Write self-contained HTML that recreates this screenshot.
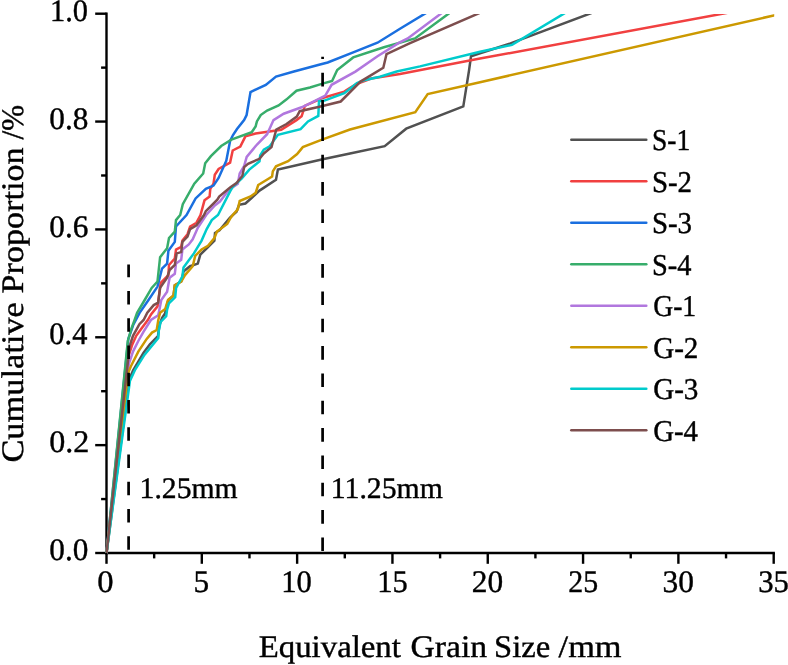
<!DOCTYPE html>
<html lang="en"><head><meta charset="utf-8"><title>Cumulative Proportion vs Equivalent Grain Size</title>
<style>html,body{margin:0;padding:0;background:#fff;overflow:hidden}svg{display:block}text{font-family:"Liberation Serif","DejaVu Serif",serif;fill:#000;stroke:#000;stroke-width:0.4px;text-rendering:geometricPrecision}</style></head><body>
<svg width="788" height="665" viewBox="0 0 788 665">
<rect width="788" height="665" fill="#fff"/>
<g stroke="#000" stroke-width="2.4" fill="none" stroke-linecap="butt">
<line x1="106.5" y1="12.5" x2="106.5" y2="554.2"/>
<line x1="105.3" y1="553.0" x2="774.9000000000001" y2="553.0"/>
<line x1="106.50" y1="553.0" x2="106.50" y2="563.8"/>
<line x1="154.16" y1="553.0" x2="154.16" y2="558.4"/>
<line x1="201.81" y1="553.0" x2="201.81" y2="563.8"/>
<line x1="249.47" y1="553.0" x2="249.47" y2="558.4"/>
<line x1="297.13" y1="553.0" x2="297.13" y2="563.8"/>
<line x1="344.79" y1="553.0" x2="344.79" y2="558.4"/>
<line x1="392.44" y1="553.0" x2="392.44" y2="563.8"/>
<line x1="440.10" y1="553.0" x2="440.10" y2="558.4"/>
<line x1="487.76" y1="553.0" x2="487.76" y2="563.8"/>
<line x1="535.41" y1="553.0" x2="535.41" y2="558.4"/>
<line x1="583.07" y1="553.0" x2="583.07" y2="563.8"/>
<line x1="630.73" y1="553.0" x2="630.73" y2="558.4"/>
<line x1="678.39" y1="553.0" x2="678.39" y2="563.8"/>
<line x1="726.04" y1="553.0" x2="726.04" y2="558.4"/>
<line x1="773.70" y1="553.0" x2="773.70" y2="563.8"/>
<line x1="106.5" y1="553.00" x2="95.2" y2="553.00"/>
<line x1="106.5" y1="499.07" x2="101.1" y2="499.07"/>
<line x1="106.5" y1="445.14" x2="95.2" y2="445.14"/>
<line x1="106.5" y1="391.21" x2="101.1" y2="391.21"/>
<line x1="106.5" y1="337.28" x2="95.2" y2="337.28"/>
<line x1="106.5" y1="283.35" x2="101.1" y2="283.35"/>
<line x1="106.5" y1="229.42" x2="95.2" y2="229.42"/>
<line x1="106.5" y1="175.49" x2="101.1" y2="175.49"/>
<line x1="106.5" y1="121.56" x2="95.2" y2="121.56"/>
<line x1="106.5" y1="67.63" x2="101.1" y2="67.63"/>
<line x1="106.5" y1="13.70" x2="95.2" y2="13.70"/>
</g>
<defs><clipPath id="pc"><rect x="100" y="14" width="674.2" height="545"/></clipPath></defs>
<g clip-path="url(#pc)" fill="none" stroke-width="2.5" stroke-linejoin="miter" stroke-miterlimit="3" stroke-linecap="butt">
<polyline stroke="#515151" points="106.5,553.0 129.4,378.9 133.0,370.5 143.6,352.6 149.9,344.2 156.2,337.9 158.0,336.0 159.5,325.0 162.0,318.0 165.0,313.5 167.0,305.0 168.4,300.0 173.5,295.6 174.8,285.3 181.2,281.5 183.7,271.3 190.1,266.2 197.8,263.6 200.3,254.6 208.0,247.0 214.4,240.6 215.0,232.9 219.5,230.3 230.0,217.6 236.5,211.8 239.1,204.8 245.4,203.5 251.8,197.8 259.5,190.6 276.0,179.7 277.9,169.5 322.7,159.2 350.0,153.5 384.7,146.1 406.2,128.7 463.3,106.4 469.1,70.0 471.0,56.3 480.0,53.3 510.5,43.4 602.7,8.8"/>
<polyline stroke="#F14040" points="106.5,553.0 128.5,356.0 132.0,345.3 136.2,335.8 141.5,328.4 147.8,320.0 151.2,314.1 157.5,306.4 158.2,302.0 160.0,288.0 160.7,282.8 168.4,275.1 169.0,264.9 174.8,258.5 176.0,249.5 181.2,247.0 182.4,240.6 187.5,234.2 190.1,226.5 196.5,222.7 200.5,215.0 204.5,200.3 209.6,196.5 210.3,188.8 213.5,183.7 214.8,174.8 218.6,169.0 230.1,162.6 232.7,150.5 240.3,146.6 245.4,136.4 255.6,133.5 281.2,129.7 296.5,120.1 301.6,116.3 303.2,111.5 304.8,105.8 321.7,98.3 344.3,91.6 349.7,88.0 355.8,84.3 371.2,78.5 400.0,74.0 480.0,58.6 736.2,11.2"/>
<polyline stroke="#1A6FDF" points="106.5,553.0 128.3,339.0 133.2,325.0 139.6,312.8 148.5,300.0 157.5,286.6 162.0,268.7 167.1,263.6 168.4,250.8 174.8,241.9 176.0,226.5 186.5,215.0 195.6,198.4 205.8,188.8 213.5,185.6 218.6,178.0 226.3,160.7 230.1,141.0 233.0,135.0 237.0,129.0 244.1,120.1 246.6,115.0 250.5,92.0 265.8,84.9 276.0,76.6 293.9,71.5 320.0,64.5 327.7,62.5 353.2,52.3 377.5,42.7 400.0,28.8 436.9,6.4"/>
<polyline stroke="#37AD6B" points="106.5,553.0 127.8,341.0 131.5,328.4 134.6,320.0 137.1,312.8 144.7,300.0 151.7,287.9 157.5,281.5 160.1,257.2 167.1,248.2 169.0,238.0 174.8,231.6 176.0,220.1 180.2,215.0 182.8,204.2 194.3,183.7 203.2,173.5 205.2,163.2 210.9,156.2 221.2,146.0 231.4,139.6 251.7,132.3 255.6,126.5 256.9,121.4 260.7,115.0 267.1,110.5 278.6,105.4 286.3,99.6 296.5,90.7 310.0,87.5 321.7,83.9 332.1,81.0 337.2,70.0 353.2,57.4 383.9,47.2 415.0,38.4 459.9,5.4"/>
<polyline stroke="#B177DE" points="106.5,553.0 128.8,364.2 133.0,351.6 138.3,341.0 143.6,331.6 150.9,320.0 158.2,315.3 159.8,307.7 161.3,300.0 167.1,291.7 169.6,277.7 174.8,273.8 176.0,263.6 181.2,259.8 182.4,249.5 188.8,244.4 192.7,239.3 197.8,227.8 206.2,215.0 214.8,205.4 219.9,201.6 228.8,190.1 237.8,183.7 239.7,173.5 244.2,165.8 246.7,156.9 257.0,144.5 267.1,134.2 273.5,120.1 283.7,113.7 301.6,107.3 310.0,103.3 325.3,95.6 331.6,84.8 355.4,71.6 377.5,56.2 399.3,42.7 407.7,38.4 452.1,5.3"/>
<polyline stroke="#CC9900" points="106.5,553.0 128.3,372.6 130.9,366.3 138.3,351.6 146.7,338.9 152.0,332.6 156.7,330.0 158.3,320.0 160.1,312.8 165.2,309.0 168.0,300.0 173.5,295.6 174.8,285.3 181.2,281.5 185.0,275.1 192.7,266.2 195.2,255.9 201.6,249.5 208.0,245.7 214.4,238.0 217.0,231.6 227.2,224.0 230.0,218.8 232.7,215.0 237.8,209.3 239.7,201.0 250.6,196.5 255.7,192.7 258.2,185.0 272.1,176.5 272.8,171.4 276.0,166.3 288.1,161.2 297.1,154.1 302.8,147.1 322.7,139.4 350.0,129.5 415.3,112.2 427.7,94.0 480.0,82.2 786.9,12.5"/>
<polyline stroke="#00CBCC" points="106.5,553.0 129.9,381.0 135.2,369.5 144.6,354.7 158.3,337.9 158.8,330.5 160.6,322.0 166.2,316.2 167.1,309.7 168.9,303.4 175.2,297.1 176.1,288.0 182.4,276.3 183.5,267.4 193.9,253.4 201.6,240.6 206.7,229.1 211.8,220.1 218.0,215.0 230.1,191.4 232.7,186.9 241.6,178.6 249.3,169.6 259.5,161.3 260.2,155.5 263.8,149.6 269.6,146.4 277.9,134.8 300.6,129.1 308.0,121.5 318.3,115.9 319.0,101.3 324.5,100.6 344.3,93.2 350.0,88.8 356.9,83.0 364.1,80.3 380.0,76.7 396.7,71.5 420.0,66.4 480.0,51.8 512.0,44.9 575.8,6.5"/>
<polyline stroke="#7D4E4E" points="106.5,553.0 128.3,358.0 129.9,345.3 133.0,335.8 139.4,324.2 143.6,320.0 147.3,312.8 153.7,305.1 158.2,302.6 158.5,300.0 160.1,287.9 167.1,277.7 169.6,270.0 174.8,264.9 176.7,253.4 181.2,252.1 182.4,241.9 187.5,236.7 190.1,229.1 196.5,225.2 204.0,215.0 205.8,211.2 217.3,199.7 219.2,196.5 230.1,187.5 236.5,183.1 242.3,176.0 244.2,167.1 248.0,163.9 259.5,158.8 263.8,153.5 271.5,147.1 276.3,129.5 286.5,124.0 296.8,116.6 299.7,111.2 319.5,106.7 340.7,101.5 360.5,81.6 383.3,67.7 386.5,54.2 409.5,43.4 490.8,8.1"/>
</g>
<g stroke="#000" stroke-width="2.7" fill="none" stroke-dasharray="13.6 13.65">
<line x1="128.6" y1="549.8" x2="128.6" y2="264.5"/>
<line x1="322.6" y1="551" x2="322.6" y2="56.8" stroke-dasharray="13.6 13.73"/>
</g>
<g font-size="30">
<text x="97.36" y="592.2" font-size="31.3" textLength="16.32" lengthAdjust="spacingAndGlyphs">0</text>
<text x="193.60" y="592.2" font-size="31.3" textLength="15.65" lengthAdjust="spacingAndGlyphs">5</text>
<text x="281.15" y="592.2" font-size="31.3" textLength="30.59" lengthAdjust="spacingAndGlyphs">10</text>
<text x="377.15" y="592.2" font-size="31.3" textLength="30.48" lengthAdjust="spacingAndGlyphs">15</text>
<text x="471.80" y="592.2" font-size="31.3" textLength="31.35" lengthAdjust="spacingAndGlyphs">20</text>
<text x="568.25" y="592.2" font-size="31.3" textLength="29.87" lengthAdjust="spacingAndGlyphs">25</text>
<text x="662.49" y="592.2" font-size="31.3" textLength="31.46" lengthAdjust="spacingAndGlyphs">30</text>
<text x="758.22" y="592.2" font-size="31.3" textLength="30.72" lengthAdjust="spacingAndGlyphs">35</text>
<text x="49.30" y="560.1" font-size="31.3" textLength="39.05" lengthAdjust="spacingAndGlyphs">0.0</text>
<text x="49.27" y="452.2" font-size="31.3" textLength="40.12" lengthAdjust="spacingAndGlyphs">0.2</text>
<text x="49.33" y="344.4" font-size="31.3" textLength="38.03" lengthAdjust="spacingAndGlyphs">0.4</text>
<text x="49.30" y="236.5" font-size="31.3" textLength="39.05" lengthAdjust="spacingAndGlyphs">0.6</text>
<text x="49.30" y="128.7" font-size="31.3" textLength="39.05" lengthAdjust="spacingAndGlyphs">0.8</text>
<text x="49.96" y="20.8" font-size="31.3" textLength="37.97" lengthAdjust="spacingAndGlyphs">1.0</text>
<text x="258.80" y="656.5" font-size="31.3" textLength="142.08" lengthAdjust="spacingAndGlyphs">Equivalent</text>
<text x="410.53" y="656.5" font-size="31.3" textLength="76.60" lengthAdjust="spacingAndGlyphs">Grain</text>
<text x="494.02" y="656.5" font-size="31.3" textLength="56.11" lengthAdjust="spacingAndGlyphs">Size</text>
<text x="558.60" y="656.5" font-size="31.3" textLength="62.98" lengthAdjust="spacingAndGlyphs">/mm</text>
<g transform="translate(23.0,461.5) rotate(-90)">
<text x="-1.10" y="0.0" font-size="31.3" textLength="160.28" lengthAdjust="spacingAndGlyphs">Cumulative</text>
<text x="168.10" y="0.0" font-size="31.3" textLength="145.92" lengthAdjust="spacingAndGlyphs">Proportion</text>
<text x="322.10" y="0.0" font-size="31.3" textLength="34.56" lengthAdjust="spacingAndGlyphs">/%</text>
</g>
<text x="139.61" y="498.4" font-size="29.8" textLength="97.97" lengthAdjust="spacingAndGlyphs">1.25mm</text>
<text x="330.81" y="498.4" font-size="29.8" textLength="111.97" lengthAdjust="spacingAndGlyphs">11.25mm</text>
<line x1="571.3" y1="139.7" x2="646.3" y2="139.7" stroke="#515151" stroke-width="2.5" stroke-linecap="round"/>
<text x="651.98" y="150.1" font-size="30.2" textLength="38.22" lengthAdjust="spacingAndGlyphs">S-1</text>
<line x1="571.3" y1="181.2" x2="646.3" y2="181.2" stroke="#F14040" stroke-width="2.5" stroke-linecap="round"/>
<text x="651.88" y="191.6" font-size="30.2" textLength="40.16" lengthAdjust="spacingAndGlyphs">S-2</text>
<line x1="571.3" y1="222.7" x2="646.3" y2="222.7" stroke="#1A6FDF" stroke-width="2.5" stroke-linecap="round"/>
<text x="651.88" y="233.1" font-size="30.2" textLength="40.16" lengthAdjust="spacingAndGlyphs">S-3</text>
<line x1="571.3" y1="264.2" x2="646.3" y2="264.2" stroke="#37AD6B" stroke-width="2.5" stroke-linecap="round"/>
<text x="651.92" y="274.6" font-size="30.2" textLength="39.47" lengthAdjust="spacingAndGlyphs">S-4</text>
<line x1="571.3" y1="305.7" x2="646.3" y2="305.7" stroke="#B177DE" stroke-width="2.5" stroke-linecap="round"/>
<text x="653.18" y="316.1" font-size="30.2" textLength="43.02" lengthAdjust="spacingAndGlyphs">G-1</text>
<line x1="571.3" y1="347.2" x2="646.3" y2="347.2" stroke="#CC9900" stroke-width="2.5" stroke-linecap="round"/>
<text x="653.13" y="357.6" font-size="30.2" textLength="45.32" lengthAdjust="spacingAndGlyphs">G-2</text>
<line x1="571.3" y1="388.7" x2="646.3" y2="388.7" stroke="#00CBCC" stroke-width="2.5" stroke-linecap="round"/>
<text x="653.13" y="399.1" font-size="30.2" textLength="45.32" lengthAdjust="spacingAndGlyphs">G-3</text>
<line x1="571.3" y1="430.2" x2="646.3" y2="430.2" stroke="#7D4E4E" stroke-width="2.5" stroke-linecap="round"/>
<text x="653.14" y="440.6" font-size="30.2" textLength="44.84" lengthAdjust="spacingAndGlyphs">G-4</text>
</g>
</svg></body></html>
